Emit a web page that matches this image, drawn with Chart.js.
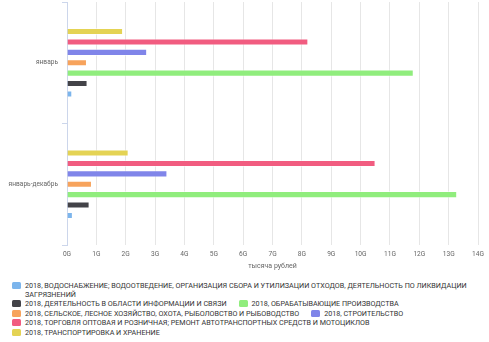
<!DOCTYPE html>
<html><head><meta charset="utf-8">
<script src="https://cdn.jsdelivr.net/npm/chart.js@4"></script>
<style>
html,body{margin:0;padding:0;background:#fff;}
#wrap{position:relative;width:489px;height:342px;font-family:Roboto,"Noto Sans",sans-serif;}
#cv{position:absolute;left:0;top:0;}
#legend{position:absolute;left:12px;top:280.5px;width:474px;display:flex;flex-wrap:wrap;font-size:7.2px;line-height:9.4px;color:#333;}
.li{display:flex;align-items:flex-start;margin-right:12px;max-width:100%;}
.sw{flex:none;width:9px;height:7px;border-radius:1.5px;margin-right:4px;margin-top:1px;}
</style></head>
<body>
<div id="wrap"><canvas id="cv" width="489" height="276"></canvas><div id="legend"></div></div>
<script>
const categories = ["январь", "январь-декабрь"];
const seriesNames = [
  "2018, ВОДОСНАБЖЕНИЕ; ВОДООТВЕДЕНИЕ, ОРГАНИЗАЦИЯ СБОРА И УТИЛИЗАЦИИ ОТХОДОВ, ДЕЯТЕЛЬНОСТЬ ПО ЛИКВИДАЦИИ ЗАГРЯЗНЕНИЙ",
  "2018, ДЕЯТЕЛЬНОСТЬ В ОБЛАСТИ ИНФОРМАЦИИ И СВЯЗИ",
  "2018, ОБРАБАТЫВАЮЩИЕ ПРОИЗВОДСТВА",
  "2018, СЕЛЬСКОЕ, ЛЕСНОЕ ХОЗЯЙСТВО, ОХОТА, РЫБОЛОВСТВО И РЫБОВОДСТВО",
  "2018, СТРОИТЕЛЬСТВО",
  "2018, ТОРГОВЛЯ ОПТОВАЯ И РОЗНИЧНАЯ; РЕМОНТ АВТОТРАНСПОРТНЫХ СРЕДСТВ И МОТОЦИКЛОВ",
  "2018, ТРАНСПОРТИРОВКА И ХРАНЕНИЕ"
];
const waterValues = [0.18e9, 0.20e9];
const infoValues = [0.70e9, 0.77e9];
const manufacturingValues = [11.81e9, 13.29e9];
const agricultureValues = [0.68e9, 0.85e9];
const constructionValues = [2.73e9, 3.42e9];
const tradeValues = [8.22e9, 10.51e9];
const transportValues = [1.91e9, 2.10e9];
const tickLabels = ["0G","1G","2G","3G","4G","5G","6G","7G","8G","9G","10G","11G","12G","13G","14G"];
const axisTitle = "тысяча рублей";
const colors = ["#7cb5ec","#434348","#90ed7d","#f7a35c","#8085e9","#f15c80","#e4d354"];

const allValues = [waterValues, infoValues, manufacturingValues, agricultureValues, constructionValues, tradeValues, transportValues];
const datasets = seriesNames.map((n,i)=>({
  label:n, data:allValues[i], backgroundColor:colors[i],
  borderColor:'rgba(255,255,255,0.5)', borderWidth:1,
  categoryPercentage:0.6, barPercentage:0.68
})).reverse();

new Chart(document.getElementById('cv'), {
  type:'bar',
  data:{labels:categories, datasets:datasets},
  options:{
    indexAxis:'y', responsive:false, animation:false,
    layout:{padding:{top:2,right:10,left:0,bottom:0}},
    plugins:{legend:{display:false}, tooltip:{enabled:false}},
    scales:{
      x:{min:0,max:14e9,
        ticks:{stepSize:1e9,color:'#666',font:{size:6.6,family:'Roboto'},padding:5,
          callback:(v,i)=>tickLabels[i]},
        grid:{color:'#e6e6e6',drawTicks:false},
        border:{display:false},
        title:{display:true,text:axisTitle,color:'#666',font:{size:7,family:'Roboto'},padding:{top:0,bottom:6}},
        afterFit:s=>{s.height=31;}
      },
      y:{
        ticks:{color:'#666',font:{size:6.6,family:'Roboto'},padding:4},
        grid:{display:true,drawOnChartArea:false,drawTicks:true,tickLength:5,color:'#ccd6eb',offset:true},
        border:{display:true,color:'#ccd6eb'},
        afterFit:s=>{s.width=67; s.paddingTop=0; s.paddingBottom=0;}
      }
    }
  }
});

const lg = document.getElementById('legend');
seriesNames.forEach((n,i)=>{
  const d=document.createElement('div'); d.className='li';
  const s=document.createElement('span'); s.className='sw'; s.style.background=colors[i];
  const t=document.createElement('span'); t.textContent=n;
  d.appendChild(s); d.appendChild(t); lg.appendChild(d);
});
</script>
</body></html>
